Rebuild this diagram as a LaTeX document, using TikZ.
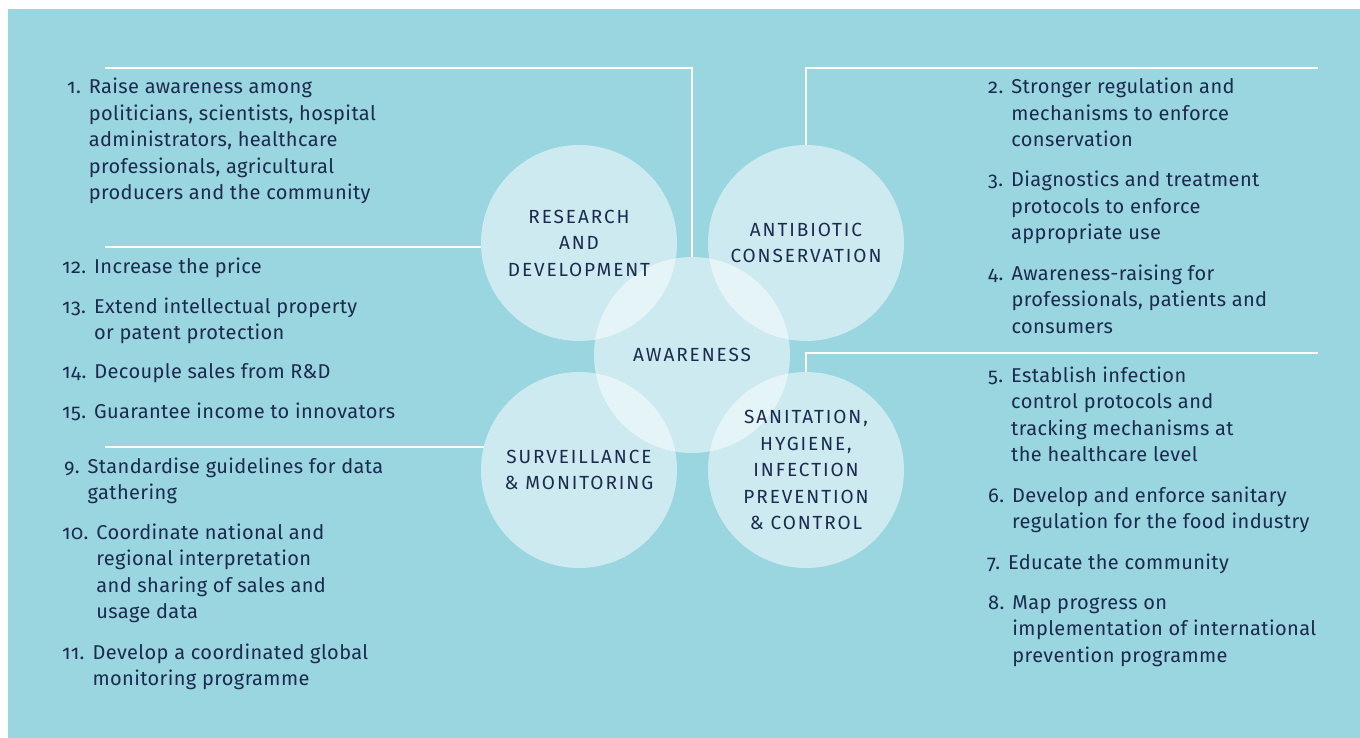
\documentclass[tikz,border=0pt]{standalone}
\usepackage{fontspec}
\setmainfont{Fira Sans}[Numbers=OldStyle]
\usetikzlibrary{positioning}
\definecolor{bgblue}{HTML}{9AD6DF}
\definecolor{inkblue}{HTML}{1B2A4E}
\newcommand{\entrytext}[2]{#1\hspace{0.4em}\begin{tabular}[t]{@{}l@{}}#2\end{tabular}}
\begin{document}
\begin{tikzpicture}
[x=1pt,y=-1pt,
circ/.style={circle,fill=white,fill opacity=0.5,text opacity=1,minimum size=196pt,inner sep=0pt,align=center,text=inkblue,font=\fontsize{19}{26.5}\selectfont\addfontfeature{LetterSpace=10}},
entry/.style={anchor=base west,inner sep=0pt,text=inkblue,font=\fontsize{20}{26.5}\selectfont\addfontfeature{LetterSpace=2,Numbers=OldStyle}},
link/.style={draw=white,line width=2pt}]
\useasboundingbox (0,0) rectangle (1360,738);
\fill[white] (0,0) rectangle (1360,738);
\fill[bgblue] (8,9) rectangle (1360,738);
% the five circles (middle one first so the others' labels stay on top)
\node[circ] (aw) at (692,355) {AWARENESS};
\node[circ] (rd) at (579,243) {RESEARCH\\AND\\DEVELOPMENT};
\node[circ] (ac) at (806,243) {ANTIBIOTIC\\CONSERVATION};
\node[circ] (sv) at (579,470) {SURVEILLANCE\\\&~MONITORING};
\node[circ] (sn) at (806,470) {SANITATION,\\HYGIENE,\\INFECTION\\PREVENTION\\\&~CONTROL};
% white rules
\coordinate (l1) at (105,68);
\coordinate (r2) at (1318,68);
\coordinate (l3) at (105,247);
\coordinate (l4) at (105,447);
\coordinate (r5) at (1318,353);
\draw[link] (l1) -| (aw.north);
\draw[link] (ac.north) |- (r2);
\draw[link] (l3) -- (l3 -| rd.182);
\draw[link] (l4) -- (l4 -| sv.166);
\draw[link] (sn.north) |- (r5);
% left column
\node[entry] (item1) at (67,94) {\entrytext{1.}{Raise awareness among\\politicians, scientists, hospital\\administrators, healthcare\\professionals, agricultural\\producers and the community}};
\node[entry] (item12) at (62,273) {\entrytext{12.}{Increase the price}};
\node[entry] (item13) at (62,313) {\entrytext{13.}{Extend intellectual property\\or patent protection}};
\node[entry] (item14) at (62,378) {\entrytext{14.}{Decouple sales from R\&D}};
\node[entry] (item15) at (62,418) {\entrytext{15.}{Guarantee income to innovators}};
\node[entry] (item9) at (64,473) {\entrytext{9.}{Standardise guidelines for data\\gathering}};
\node[entry] (item10) at (62,539) {\entrytext{10.}{Coordinate national and\\regional interpretation\\and sharing of sales and\\usage data}};
\node[entry] (item11) at (62,659) {\entrytext{11.}{Develop a coordinated global\\monitoring programme}};
% right column
\node[entry] (item2) at (988,94) {\entrytext{2.}{Stronger regulation and\\mechanisms to enforce\\conservation}};
\node[entry] (item3) at (988,187) {\entrytext{3.}{Diagnostics and treatment\\protocols to enforce\\appropriate use}};
\node[entry] (item4) at (988,280) {\entrytext{4.}{Awareness-raising for\\professionals, patients and\\consumers}};
\node[entry] (item5) at (988,382) {\entrytext{5.}{Establish infection\\control protocols and\\tracking mechanisms at\\the healthcare level}};
\node[entry] (item6) at (988,502) {\entrytext{6.}{Develop and enforce sanitary\\regulation for the food industry}};
\node[entry] (item7) at (987,569) {\entrytext{7.}{Educate the community}};
\node[entry] (item8) at (988,609) {\entrytext{8.}{Map progress on\\implementation of international\\prevention programme}};
\end{tikzpicture}
\end{document}
